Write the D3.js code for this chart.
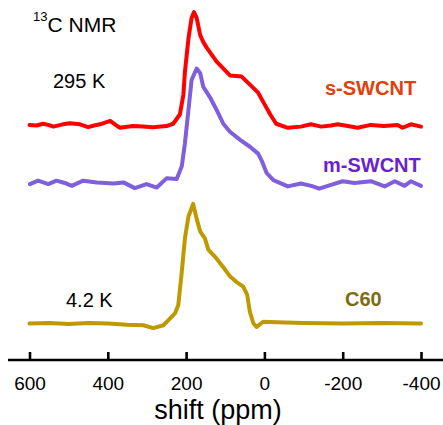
<!DOCTYPE html>
<html>
<head>
<meta charset="utf-8">
<script src="https://cdn.jsdelivr.net/npm/d3@7/dist/d3.min.js"></script>
<style>
  body { margin: 0; background: #fff; }
  svg { display: block; font-family: "Liberation Sans", Arial, sans-serif; }
</style>
</head>
<body>
<svg id="chart" width="443" height="425"></svg>
<script>
// tick labels of the shift axis (ppm)
var ticksPpm = [600, 400, 200, 0, -200, -400];

// spectra : [shift ppm, intensity above own baseline]
var sSwcnt = [
  [600, 0.01], [582, 0.005], [565, 0.02], [552, 0.01], [539, -0.005], [515, 0.015], [497, 0.025],
  [471, 0.015], [450, -0.01], [435, 0.005], [420, 0.015], [394, 0.045], [380, 0.01],
  [369, -0.015], [336, 0], [310, -0.005], [285, -0.01], [250, 0],
  [233, 0.02], [216, 0.1], [207, 0.27], [203, 0.47], [194, 0.76], [186, 0.94],
  [180, 0.99], [173, 0.94], [164, 0.79], [156, 0.73], [147, 0.68], [122, 0.56],
  [88, 0.44], [58, 0.43], [37, 0.36], [16, 0.29], [3, 0.21], [-15, 0.1],
  [-30, 0.02], [-60, -0.015], [-93, -0.005], [-119, 0.015], [-145, -0.005], [-170, 0.005], [-187, 0.015],
  [-213, 0], [-238, -0.015], [-272, 0.01], [-305, 0], [-340, 0.01], [-353, -0.015],
  [-374, 0.015], [-400, -0.005]
];

var mSwcnt = [
  [599, -0.005], [578, 0.025], [552, -0.005], [531, 0.025], [510, 0.005], [492, -0.02], [463, 0.025],
  [428, 0.01], [405, 0.005], [386, 0], [360, 0.01], [331, -0.04], [301, -0.005], [275, -0.035],
  [250, 0.045], [224, 0.04], [211, 0.15], [203, 0.35], [194, 0.64], [186, 0.9],
  [173, 1.0], [164, 0.96], [156, 0.84], [139, 0.75], [122, 0.64], [105, 0.52],
  [88, 0.45], [62, 0.38], [37, 0.32], [16, 0.26], [7, 0.2], [-6, 0.09],
  [-23, 0.03], [-60, -0.025], [-93, 0], [-120, -0.02], [-140, -0.045], [-162, -0.02], [-200, 0.02],
  [-230, 0.005], [-272, 0.02], [-307, -0.025], [-333, 0.02], [-358, -0.02], [-374, 0.02],
  [-400, -0.02]
];

var c60 = [
  [600, 0], [550, 0.005], [500, -0.005], [450, 0.005], [400, 0], [350, -0.01],
  [309, -0.015], [284, -0.04], [258, -0.015], [242, 0.04], [228, 0.09], [220, 0.16],
  [211, 0.45], [203, 0.74], [194, 0.93], [182, 1.04], [173, 0.91], [164, 0.8],
  [152, 0.74], [143, 0.64], [126, 0.58], [105, 0.49], [88, 0.41], [71, 0.36],
  [54, 0.32], [44, 0.25], [37, 0.1], [28, 0], [20, -0.03], [3, 0.015],
  [-31, 0.01], [-100, 0.005], [-200, 0], [-300, 0.005], [-400, 0]
];

var seriesNames = ["s-SWCNT", "m-SWCNT", "C60"];
var seriesData = [sSwcnt, mSwcnt, c60];
var seriesOffset = [1.717, 1.217, 0];
var lineColors = ["#fe0000", "#7f5fdb", "#bf9900"];
var labelColors = ["#e0400a", "#6b1fd1", "#7f6c12"];

var svg = d3.select("#chart");

var x = d3.scaleLinear().domain([600, -400]).range([29.5, 421]);
var y = d3.scaleLinear().domain([0, 2.8]).range([323.5, 1.5]);

var line = d3.line()
  .x(d => x(d[0]))
  .y(d => y(d[1]));

seriesData.forEach(function(data, i) {
  svg.append("path")
    .datum(data.map(d => [d[0], d[1] + seriesOffset[i]]))
    .attr("fill", "none")
    .attr("stroke", lineColors[i])
    .attr("stroke-width", 4)
    .attr("stroke-linejoin", "round")
    .attr("stroke-linecap", "round")
    .attr("d", line);
});

// axis
var axisY = 360;
var xAxis = d3.axisBottom(x)
  .tickValues(ticksPpm)
  .tickSize(0)
  .tickPadding(17)
  .tickFormat(d => String(d));

var gx = svg.append("g")
  .attr("transform", "translate(0," + axisY + ")")
  .call(xAxis);
gx.select(".domain").remove();
gx.selectAll(".tick text")
  .attr("font-size", "19px")
  .attr("font-family", "Liberation Sans, Arial, sans-serif")
  .attr("fill", "#000");
gx.selectAll(".tick")
  .append("line")
  .attr("y1", 0)
  .attr("y2", -8)
  .attr("stroke", "#000")
  .attr("stroke-width", 2.6);
gx.append("line")
  .attr("x1", 8)
  .attr("x2", 443)
  .attr("stroke", "#000")
  .attr("stroke-width", 2.6);

svg.append("text")
  .attr("x", 218)
  .attr("y", 419)
  .attr("text-anchor", "middle")
  .attr("font-size", "27px")
  .text("shift (ppm)");

// annotations
var title = svg.append("text")
  .attr("x", 33)
  .attr("y", 31.5)
  .attr("font-size", "21px");
title.append("tspan")
  .attr("font-size", "13px")
  .attr("dy", "-11")
  .text("13");
title.append("tspan")
  .attr("dy", "11")
  .text("C NMR");

svg.append("text")
  .attr("x", 53)
  .attr("y", 88)
  .attr("font-size", "20px")
  .text("295 K");

svg.append("text")
  .attr("x", 66)
  .attr("y", 306.5)
  .attr("font-size", "20px")
  .text("4.2 K");

var labelX = [325, 323, 345];
var labelY = [95, 171.5, 306];
seriesNames.forEach(function(name, i) {
  svg.append("text")
    .attr("x", labelX[i])
    .attr("y", labelY[i])
    .attr("font-size", "20px")
    .attr("font-weight", "bold")
    .attr("fill", labelColors[i])
    .text(name);
});
</script>
</body>
</html>
